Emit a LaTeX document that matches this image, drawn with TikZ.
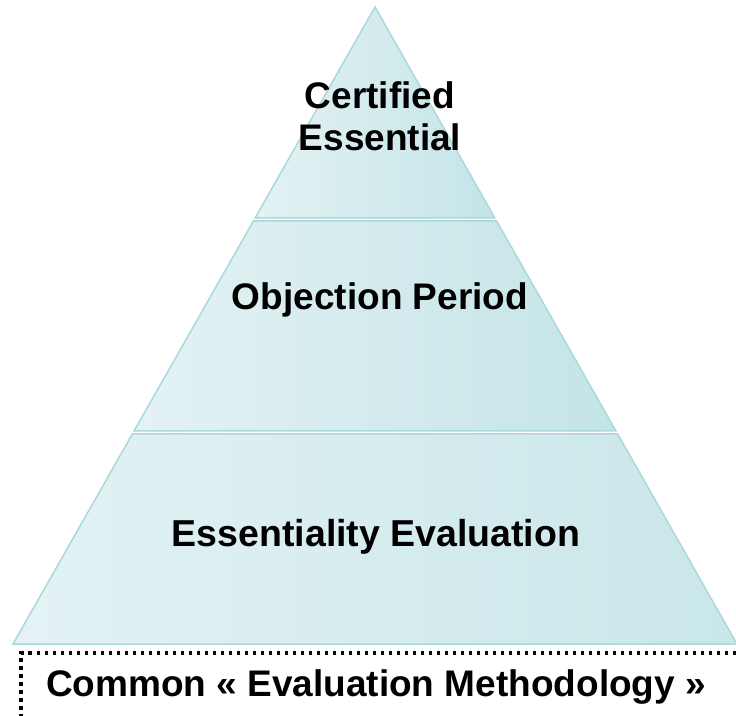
\documentclass[tikz,border=0pt]{standalone}
\usepackage{fontspec}
\setmainfont{Liberation Sans}
\usepackage{tikz}
\usetikzlibrary{
	calc
}
\definecolor{PyrLight}{RGB}{228,242,244}
\definecolor{PyrDark}{RGB}{196,228,231}
\definecolor{PyrEdge}{RGB}{170,216,221}

\begin{document}
\begin{tikzpicture}[x=1pt,y=-1pt]
				
				\useasboundingbox (0,0) rectangle (736,715);
				\clip (0,0) rectangle (736,715);
				
				\coordinate (APEX) at (375,7);
				\coordinate (BL) at (13,644);
				\coordinate (BR) at (737,644);
				
				% top layer
				\draw[
				PyrEdge,
				line width=1.5pt,
				left color=PyrLight,
				right color=PyrDark
				]
				(APEX)
				-- ($(APEX)!0.3312!(BR)$)
				-- ($(APEX)!0.3312!(BL)$)
				-- cycle;
				
				% middle layer
				\draw[
				PyrEdge,
				line width=1.5pt,
				left color=PyrLight,
				right color=PyrDark
				]
				($(APEX)!0.3359!(BL)$)
				-- ($(APEX)!0.3359!(BR)$)
				-- ($(APEX)!0.6656!(BR)$)
				-- ($(APEX)!0.6656!(BL)$)
				-- cycle;
				
				% bottom layer
				\draw[
				PyrEdge,
				line width=1.5pt,
				left color=PyrLight,
				right color=PyrDark!85!PyrLight
				]
				($(APEX)!0.6703!(BL)$)
				-- ($(APEX)!0.6703!(BR)$)
				-- (BR)
				-- (BL)
				-- cycle;
				
				\node[
				font=\fontsize{37}{42}\selectfont\bfseries,
				align=center
				]
				(CERT)
				at (380,116)
				{Certified\\Essential};
				
				\node[
				font=\fontsize{37}{42}\selectfont\bfseries
				]
				(OBJ)
				at (380,300)
				{Objection Period};
				
				\node[
				font=\fontsize{37.5}{42}\selectfont\bfseries
				]
				(EVAL)
				at (376,537)
				{Essentiality Evaluation};
				
				\draw[
				black,
				line width=3.5pt,
				dash pattern=on 3.5pt off 4.5pt
				]
				(760,653) -- (21,653) -- (21,740);
				
				\node[
				font=\fontsize{37}{42}\selectfont\bfseries
				]
				(METH)
				at (376,687)
				{Common « Evaluation Methodology »};
				
			\end{tikzpicture}
\end{document}
